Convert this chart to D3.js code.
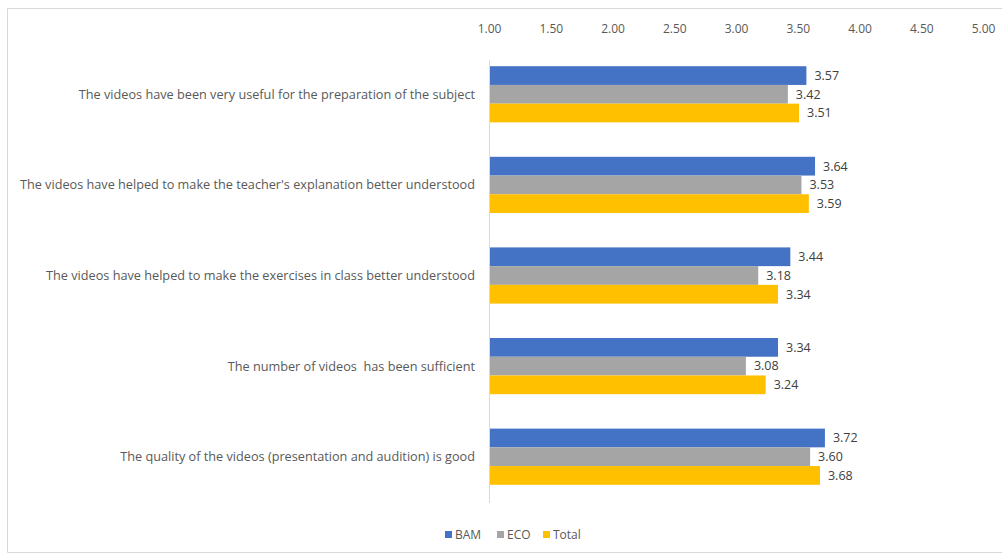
<!DOCTYPE html>
<html>
<head>
<meta charset="utf-8">
<script src="https://cdn.jsdelivr.net/npm/d3@7"></script>
<style>
  html, body { margin: 0; padding: 0; background: #fff; }
  svg { display: block; }
  text { font-family: "Open Sans", Lato, sans-serif; white-space: pre; }
</style>
</head>
<body>
<svg id="chart" width="1002" height="554"></svg>
<script>
// Survey statements (top to bottom) and mean scores per group
const categories = [
  "The videos have been very useful for the preparation of the subject",
  "The videos have helped to make the teacher's explanation better understood",
  "The videos have helped to make the exercises in class better understood",
  "The number of videos  has been sufficient",
  "The quality of the videos (presentation and audition) is good"
];
const seriesNames = ["BAM", "ECO", "Total"];
const bamValues   = [3.57, 3.64, 3.44, 3.34, 3.72];
const ecoValues   = [3.42, 3.53, 3.18, 3.08, 3.60];
const totalValues = [3.51, 3.59, 3.34, 3.24, 3.68];
const tickValues  = [1.00, 1.50, 2.00, 2.50, 3.00, 3.50, 4.00, 4.50, 5.00];
const seriesColors = ["#4472c4", "#a5a5a5", "#ffc000"];

const seriesValues = [bamValues, ecoValues, totalValues];

const svg = d3.select("#chart");

// Chart area frame
svg.append("path")
  .attr("d", "M1010,8.5 H7.5 V552.5 H1010")
  .attr("fill", "none")
  .attr("stroke", "#d9d9d9")
  .attr("stroke-width", 1);

const x = d3.scaleLinear().domain([1, 5]).range([489, 983]);
const y = d3.scaleBand().domain(categories).range([49, 502]).paddingInner(0.38).paddingOuter(0.19);
const ySeries = d3.scaleBand().domain(seriesNames).range([0, y.bandwidth()]);

// Value axis along the top
const xAxis = d3.axisTop(x).tickValues(tickValues).tickFormat(d3.format(".2f")).tickSize(0).tickPadding(0);
const gx = svg.append("g").attr("transform", "translate(0,33)").call(xAxis);
gx.select(".domain").remove();
gx.selectAll("text")
  .attr("fill", "#595959")
  .attr("font-size", "12px")
  .attr("font-family", "'Open Sans', Lato, sans-serif")
  .attr("dy", "0");

// Category axis line
svg.append("line")
  .attr("x1", x(1) + 0.5).attr("x2", x(1) + 0.5)
  .attr("y1", 60).attr("y2", 503)
  .attr("stroke", "#d9d9d9").attr("stroke-width", 1);

// Category labels
svg.append("g").selectAll("text")
  .data(categories)
  .join("text")
  .attr("x", 475)
  .attr("y", d => y(d) + y.bandwidth() / 2)
  .attr("dy", "0.35em")
  .attr("text-anchor", "end")
  .attr("fill", "#595959")
  .attr("font-size", "12.7px")
  .text(d => d);

// Bars and value labels
const rows = [];
categories.forEach((c, i) => {
  seriesNames.forEach((s, j) => rows.push({ cat: c, series: s, value: seriesValues[j][i], color: seriesColors[j] }));
});

const g = svg.append("g");
g.selectAll("rect")
  .data(rows)
  .join("rect")
  .attr("x", x(1) + 1)
  .attr("y", d => y(d.cat) + ySeries(d.series))
  .attr("width", d => x(d.value) - x(1) - 1)
  .attr("height", ySeries.bandwidth())
  .attr("fill", d => d.color);

g.selectAll("text")
  .data(rows)
  .join("text")
  .attr("x", d => x(d.value) + 8)
  .attr("y", d => y(d.cat) + ySeries(d.series) + ySeries.bandwidth() / 2)
  .attr("dy", "0.35em")
  .attr("fill", "#404040")
  .attr("font-size", "12.5px")
  .text(d => d3.format(".2f")(d.value));

// Legend
const legendItems = [
  { name: "BAM", x: 445 },
  { name: "ECO", x: 497 },
  { name: "Total", x: 543 }
];
const lg = svg.append("g");
legendItems.forEach((it, j) => {
  lg.append("rect").attr("x", it.x).attr("y", 531).attr("width", 7).attr("height", 7).attr("fill", seriesColors[j]);
  lg.append("text").attr("x", it.x + 10).attr("y", 535).attr("dy", "0.35em")
    .attr("fill", "#595959").attr("font-size", "12px").text(it.name);
});
</script>
</body>
</html>
